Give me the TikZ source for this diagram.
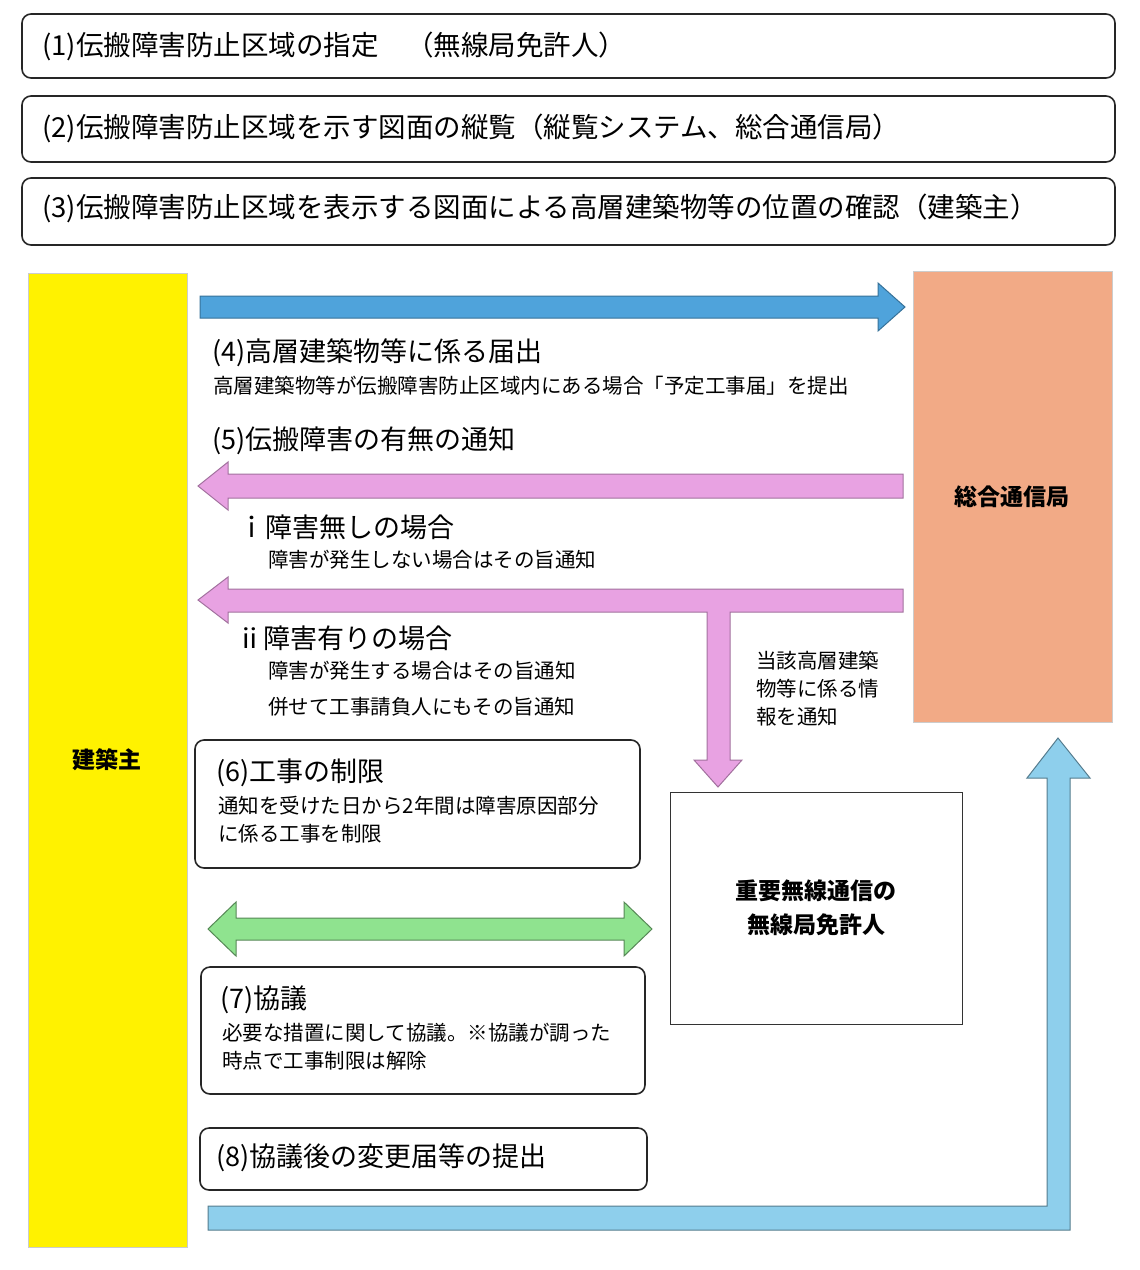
\documentclass[tikz,border=0pt]{standalone}
\usepackage{fontspec}
\setmainfont{Noto Sans CJK JP}
\begin{document}
\begin{tikzpicture}[x=1pt,y=-1pt,
 rbox/.style={draw=black!85,line width=1.6pt,rounded corners=9pt,fill=white},
 top/.style={font=\fontsize{27.5}{30}\selectfont,anchor=west,inner sep=0},
 big/.style={font=\fontsize{27}{30}\selectfont,anchor=west,inner sep=0},
 sml/.style={font=\fontsize{20.5}{28}\selectfont,anchor=west,inner sep=0},
 bold/.style={font=\fontsize{23}{34}\selectfont\bfseries,align=center},
 arr/.style={line width=1pt}]
\useasboundingbox (0,0) rectangle (1140,1270);
\definecolor{ablue}{HTML}{4FA3DB}
\definecolor{lblue}{HTML}{8ECFEC}
\definecolor{pink}{HTML}{E8A2E2}
\definecolor{green}{HTML}{8FE38F}
\definecolor{orng}{HTML}{F2AA86}
% top boxes
\draw[rbox] (22,14) rectangle (1115,78);
\node[top] (t1) at (42,46) {(1)伝搬障害防止区域の指定　（無線局免許人）};
\draw[rbox] (22,96) rectangle (1115,162);
\node[top] (t2) at (42,128) {(2)伝搬障害防止区域を示す図面の縦覧（縦覧システム、総合通信局）};
\draw[rbox] (22,178) rectangle (1115,245);
\node[top] (t3) at (42,208) {(3)伝搬障害防止区域を表示する図面による高層建築物等の位置の確認（建築主）};
% main rects
\draw[fill=yellow,draw=black!20] (28,273) rectangle (187,1247);
\node[bold] (k) at (107,760) {建築主};
\draw[fill=orng,draw=black!20] (913,271) rectangle (1112,722);
\node[bold] (s) at (1012,497) {総合通信局};
\draw[fill=white,draw=black!80,line width=1pt] (670,792) rectangle (962,1024);
\node[bold] (m) at (816,908) {重要無線通信の\\無線局免許人};
% blue arrow right
\draw[arr,fill=ablue,draw=ablue!70!black] (200,296) -- (878,296) -- (878,283) -- (905,307) -- (878,331) -- (878,318) -- (200,318) -- cycle;
\node[big] at (212,353) {(4)高層建築物等に係る届出};
\node[sml] at (213,386) {高層建築物等が伝搬障害防止区域内にある場合「予定工事届」を提出};
\node[big] at (212,441) {(5)伝搬障害の有無の通知};
% pink arrows left
\draw[arr,fill=pink,draw=pink!70!black] (903,474) -- (228,474) -- (228,462) -- (198,486) -- (228,510) -- (228,498) -- (903,498) -- cycle;
\node[big] at (238,527) {ｉ障害無しの場合};
\node[sml] at (268,560) {障害が発生しない場合はその旨通知};
\draw[arr,fill=pink,draw=pink!70!black] (903,589) -- (228,589) -- (228,577) -- (198,600) -- (228,623) -- (228,612) -- (707,612) -- (707,760) -- (694,760) -- (718,787) -- (742,760) -- (730,760) -- (730,612) -- (903,612) -- cycle;
\node[big] at (236,638) {ⅱ障害有りの場合};
\node[sml] at (268,671) {障害が発生する場合はその旨通知};
\node[sml] at (268,707) {併せて工事請負人にもその旨通知};
\node[sml,anchor=north west,align=left] at (756,651) {当該高層建築\\物等に係る情\\報を通知};
% (6)
\draw[rbox] (195,740) rectangle (640,868);
\node[big] at (216,773) {(6)工事の制限};
\node[sml] at (218,806) {通知を受けた日から2年間は障害原因部分};
\node[sml] at (218,834) {に係る工事を制限};
% green
\draw[arr,fill=green,draw=green!60!black] (236,918) -- (624,918) -- (624,902) -- (652,929) -- (624,956) -- (624,940) -- (236,940) -- (236,956) -- (208,929) -- (236,902) -- cycle;
% (7)
\draw[rbox] (201,967) rectangle (645,1094);
\node[big] at (220,1000) {(7)協議};
\node[sml] at (222,1033) {必要な措置に関して協議。※協議が調った};
\node[sml] at (222,1061) {時点で工事制限は解除};
% (8)
\draw[rbox] (200,1128) rectangle (647,1190);
\node[big] at (216,1158) {(8)協議後の変更届等の提出};
% L arrow
\draw[arr,fill=lblue,draw=lblue!60!black] (208,1206) -- (1047,1206) -- (1047,778) -- (1027,778) -- (1058,738) -- (1090,778) -- (1070,778) -- (1070,1230) -- (208,1230) -- cycle;
\end{tikzpicture}
\end{document}
